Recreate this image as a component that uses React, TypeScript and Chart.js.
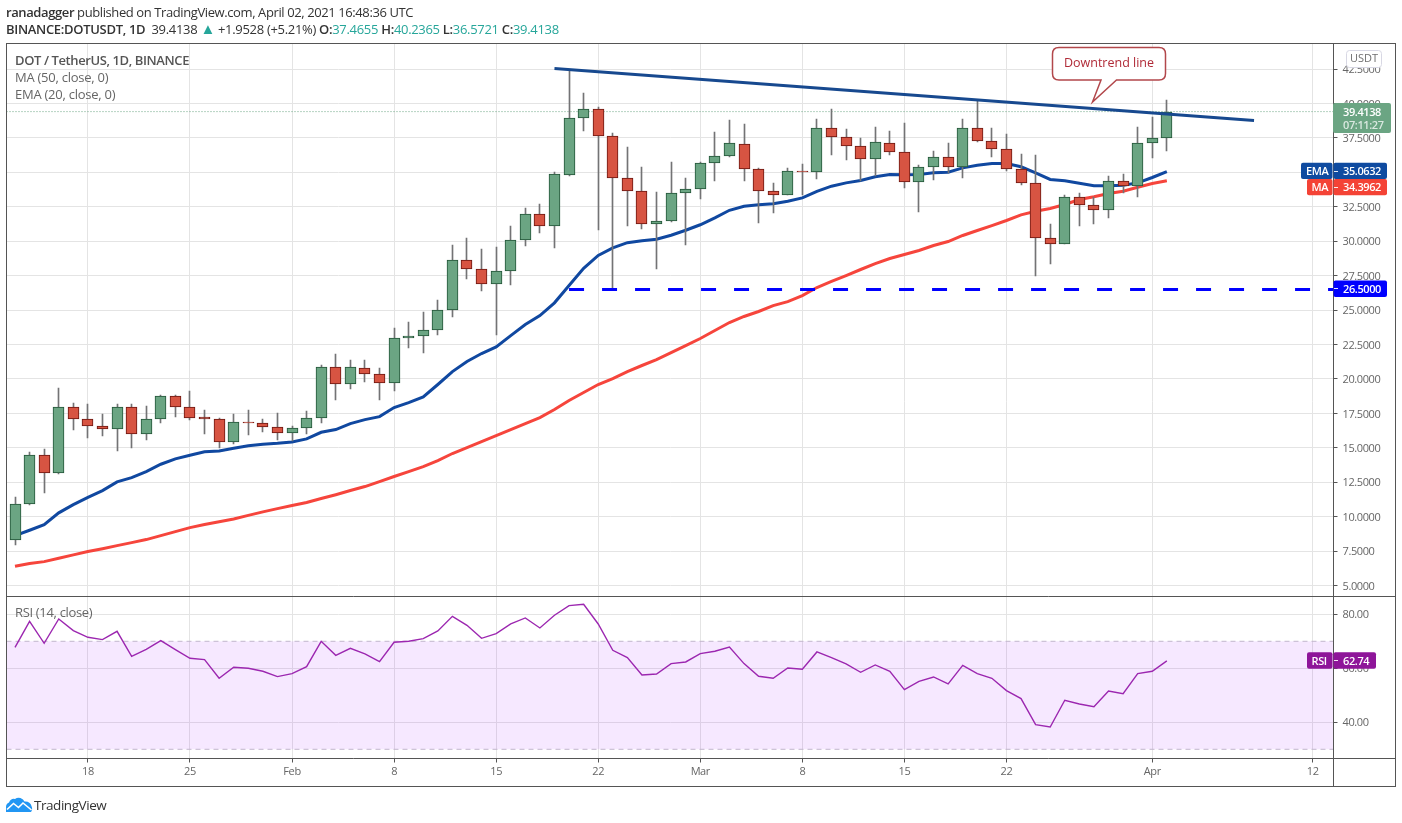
import React, { useEffect, useRef } from "react";
import { Chart, registerables } from "chart.js";

Chart.register(...registerables);

const opens = [8.32,10.93,14.49,13.18,17.98,17.1,16.6,16.38,17.98,16.0,17.1,18.78,17.98,17.25,17.1,15.43,16.89,16.82,16.52,16.09,16.45,17.18,20.88,19.65,20.81,20.37,19.72,22.99,23.13,23.57,25.02,28.65,28.0,26.91,27.85,30.1,32.0,31.12,34.8,38.96,39.6,37.66,34.6,33.66,31.27,31.49,33.52,33.81,35.69,36.2,37.08,35.26,33.66,33.37,35.11,35.04,38.24,37.58,36.93,35.98,37.15,36.5,34.32,35.41,36.13,35.41,38.24,37.29,36.71,35.26,34.24,30.25,29.82,33.23,32.65,32.28,34.39,34.03,37.15,37.4655];
const closes = [10.93,14.49,13.18,17.98,17.1,16.6,16.35,17.98,16.0,17.1,18.78,17.98,17.18,17.08,15.43,16.89,16.79,16.52,16.09,16.45,17.18,20.88,19.65,20.88,20.37,19.72,22.99,23.13,23.57,25.02,28.65,28.0,26.91,27.85,30.1,32.0,31.12,34.9,38.96,39.6,37.66,34.6,33.66,31.27,31.49,33.52,33.81,35.69,36.2,37.15,35.26,33.66,33.37,35.11,35.04,38.24,37.58,36.93,35.98,37.22,36.5,34.32,35.41,36.13,35.41,38.24,37.29,36.71,35.26,34.24,30.25,29.82,33.23,32.65,32.28,34.39,34.03,37.15,37.51,39.4138];
const highs = [11.46,14.73,14.93,19.38,18.27,18.2,17.49,18.2,18.2,18.07,18.85,18.85,19.16,17.78,17.15,17.49,17.78,17.13,17.54,16.6,17.71,20.98,21.78,21.41,21.41,20.83,23.71,24.17,24.9,25.77,29.76,30.27,29.47,29.62,31.14,32.45,32.67,35.04,42.35,40.8,39.76,37.87,36.88,35.36,33.59,35.72,34.6,35.72,37.97,38.77,38.48,35.33,34.24,35.33,35.62,38.91,39.64,38.12,37.53,38.33,38.04,38.62,35.55,36.52,37.1,38.91,40.29,38.19,37.82,36.35,36.23,31.29,33.37,33.54,33.23,34.75,34.85,38.33,38.99,40.2365];
const lows = [7.93,10.83,11.7,13.1,16.28,15.7,15.84,14.75,14.97,15.6,16.77,17.22,17.05,15.97,14.97,15.26,15.91,16.13,15.6,15.48,15.98,16.8,18.51,19.31,19.81,18.44,19.16,22.24,21.87,23.23,24.48,27.24,26.37,23.18,26.8,29.64,30.58,29.49,34.72,37.99,30.8,26.55,31.09,30.87,27.97,31.38,29.76,33.05,34.36,36.1,34.36,31.3,32.04,33.37,33.37,34.49,36.25,35.88,34.36,34.75,36.25,33.86,32.11,34.43,34.97,34.58,37.19,36.1,35.09,34.07,27.46,28.33,29.82,31.09,31.24,31.72,33.52,33.23,36.03,36.5721];
const ema = [8.63,9.02,9.43,10.28,10.88,11.41,11.9,12.53,12.84,13.28,13.81,14.2,14.46,14.71,14.78,14.97,15.15,15.26,15.33,15.43,15.65,16.13,16.33,16.76,17.05,17.27,17.93,18.29,18.7,19.6,20.54,21.27,21.85,22.33,23.15,23.95,24.6,25.53,26.79,28.04,28.97,29.52,29.9,30.03,30.15,30.44,30.8,31.2,31.7,32.25,32.54,32.65,32.72,32.9,33.15,33.63,34.0,34.24,34.41,34.68,34.85,34.83,34.85,34.97,35.01,35.33,35.52,35.65,35.65,35.41,34.97,34.49,34.39,34.22,34.03,34.03,34.07,34.24,34.63,35.0632];
const ma = [6.4,6.6,6.74,6.98,7.23,7.47,7.68,7.9,8.12,8.34,8.63,8.92,9.21,9.43,9.63,9.84,10.1,10.35,10.59,10.81,11.03,11.32,11.6,11.9,12.19,12.55,12.92,13.28,13.64,14.08,14.59,15.02,15.46,15.89,16.33,16.76,17.2,17.78,18.44,19.02,19.6,20.03,20.54,20.98,21.41,21.92,22.43,22.94,23.52,24.1,24.54,24.9,25.33,25.62,26.06,26.64,27.08,27.51,27.95,28.38,28.75,29.04,29.33,29.69,29.98,30.42,30.78,31.14,31.51,31.92,32.18,32.38,32.67,33.03,33.23,33.47,33.63,33.92,34.19,34.3962];
const rsi = [67.78,77.41,69.26,78.27,73.95,71.48,70.62,73.7,64.44,67.04,70.25,66.91,63.7,63.21,56.3,60.37,60,58.89,56.91,58.02,60.62,70,64.81,67.41,65.31,62.47,69.63,70,70.99,73.83,79.26,75.93,71.11,72.84,76.42,78.64,74.94,79.63,83.21,83.7,76.42,66.67,63.95,57.53,57.9,61.73,62.35,65.43,66.3,67.9,61.73,57.04,56.3,60.12,59.63,66.05,63.95,61.6,58.52,61.23,58.89,52.1,55.19,56.79,54.2,61.11,58.02,56.3,51.73,48.77,39.14,38.27,48.15,46.79,45.8,51.6,50.62,58.02,58.89,62.74];

const priceTicks = [5,7.5,10,12.5,15,17.5,20,22.5,25,27.5,30,32.5,35,37.5,40,42.5];
const rsiTicks = [40,60,80];
const dateTickIndex = [5,12,19,26,33,40,47,54,61,68,78,89];
const dateTickLabels = ["18","25","Feb","8","15","22","Mar","8","15","22","Apr","12"];

const trendIndex = [37,84.98];
const trendValue = [42.55,38.77];
const levelValue = 26.5;
const levelStartIndex = 38;
const lastPrice = 39.4138;
const emaLast = 35.0632;
const maLast = 34.3962;
const rsiLast = 62.74;
const rsiUpper = 70;
const rsiLower = 30;
const countdown = "07:11:27";
const callout = "Downtrend line";
const quoteUnit = "USDT";

const X_MIN = -0.583;
const X_MAX = 90.43;
const UI_FONT = '"Open Sans", sans-serif';
const LABEL_SPACING = "-0.4px";

const UP = "#6ba583", UP_B = "#225437", DN = "#d75442", DN_B = "#6b1610";
const GRID = "#e4e4e4", FRAME = "#555555", TICK_TEXT = "#666666";

const tag = (ctx: any, x: number, y: number, w: number, h: number, color: string, text: string, tx: number) => {
  ctx.fillStyle = color;
  ctx.beginPath();
  ctx.roundRect(x, y, w, h, 2);
  ctx.fill();
  ctx.fillStyle = "#fff";
  ctx.font = `600 11px ${UI_FONT}`;
  ctx.textBaseline = "middle";
  ctx.textAlign = "left";
  ctx.fillText(text, tx, y + h / 2 + 1);
};

const spacing = {
  id: "spacing",
  beforeUpdate(chart: any) { chart.ctx.letterSpacing = LABEL_SPACING; },
  beforeDraw(chart: any) { chart.ctx.letterSpacing = LABEL_SPACING; },
};

const snapBars = {
  id: "snapBars",
  beforeDatasetsDraw(chart: any) {
    chart.getSortedVisibleDatasetMetas().forEach((meta: any) => {
      if (meta.type !== "bar") return;
      meta.data.forEach((el: any) => {
        el.x = Math.round(el.x - 0.5) + 0.5;
        el.y = Math.round(el.y);
        el.base = Math.round(el.base);
        if (el.base === el.y) el.base = el.y + 1;
      });
    });
  },
};

const rsiBand = {
  id: "rsiBand",
  beforeDatasetsDraw(chart: any) {
    const s = chart.scales.rsi;
    const { left, right } = chart.chartArea;
    const a = s.getPixelForValue(rsiUpper), b = s.getPixelForValue(rsiLower);
    const ctx = chart.ctx;
    ctx.save();
    ctx.fillStyle = "rgba(152,0,255,0.09)";
    ctx.fillRect(left, a, right - left, b - a);
    ctx.restore();
  },
};

const overlay = {
  id: "overlay",
  afterDraw(chart: any) {
    const ctx = chart.ctx;
    const y = chart.scales.y, r = chart.scales.rsi;
    const { left, right, top, bottom } = chart.chartArea;
    const outerR = 1395.5, outerB = 786.5;
    const split = y.bottom;
    ctx.save();

    // frame
    ctx.strokeStyle = FRAME;
    ctx.lineWidth = 1;
    ctx.strokeRect(left, top, outerR - left, outerB - top);
    ctx.beginPath();
    ctx.moveTo(right, top); ctx.lineTo(right, outerB);
    ctx.moveTo(left, Math.round(split) + 0.5); ctx.lineTo(outerR, Math.round(split) + 0.5);
    ctx.moveTo(left, bottom); ctx.lineTo(outerR, bottom);
    ctx.stroke();

    // USDT button
    ctx.letterSpacing = "0px";
    ctx.fillStyle = "#fff";
    ctx.strokeStyle = "#d8d8e4";
    ctx.beginPath();
    ctx.roundRect(1346.5, 50.5, 35, 17, 3);
    ctx.fill(); ctx.stroke();
    ctx.fillStyle = "#6f6f6f";
    ctx.font = `11px ${UI_FONT}`;
    ctx.textAlign = "center"; ctx.textBaseline = "middle";
    ctx.fillText(quoteUnit, 1364, 59);

    // last price
    ctx.letterSpacing = LABEL_SPACING;
    const lp = y.getPixelForValue(lastPrice);
    ctx.fillStyle = UP;
    ctx.beginPath();
    ctx.roundRect(1333, lp - 8.5, 58, 30, 2);
    ctx.fill();
    ctx.textAlign = "left"; ctx.textBaseline = "middle";
    ctx.fillStyle = "#fff";
    ctx.font = `600 11px ${UI_FONT}`;
    ctx.fillText(lastPrice.toFixed(4), 1343, lp + 1.5);
    ctx.fillStyle = "rgba(255,255,255,0.75)";
    ctx.fillText(countdown, 1343, lp + 14.5);

    // indicator tags
    const ey = y.getPixelForValue(emaLast);
    const emaTop = ey - 8.8;
    const maTop = emaTop + 16.2;
    const levelTop = y.getPixelForValue(levelValue) - 9;
    const rsiTop = r.getPixelForValue(rsiLast) - 8.6;
    tag(ctx, 1301, emaTop, 31.5, 16.2, "#0f4ba0", "EMA", 1306);
    tag(ctx, 1333.5, emaTop, 53.5, 16.2, "#0f4ba0", emaLast.toFixed(4), 1343);
    tag(ctx, 1307, maTop, 25.5, 16.2, "#f44336", "MA", 1311.5);
    tag(ctx, 1333.5, maTop, 53.5, 16.2, "#f44336", maLast.toFixed(4), 1343);
    tag(ctx, 1333.5, levelTop, 53.5, 16.5, "#0000ff", levelValue.toFixed(4), 1343);
    tag(ctx, 1307, rsiTop, 25.5, 16.5, "#8e1599", "RSI", 1311.5);
    tag(ctx, 1333.5, rsiTop, 42.5, 16.5, "#8e1599", rsiLast.toFixed(2), 1343);
    ctx.strokeStyle = "rgba(255,255,255,0.9)";
    ctx.beginPath();
    [emaTop, maTop, levelTop, rsiTop].forEach((p) => { const q = Math.round(p + 8) + 0.5; ctx.moveTo(1334, q); ctx.lineTo(1338, q); });
    ctx.stroke();

    // callout
    ctx.letterSpacing = "0px";
    ctx.fillStyle = "#fff";
    ctx.strokeStyle = "#b2474b";
    ctx.lineWidth = 1.5;
    ctx.beginPath();
    ctx.moveTo(1059, 47.5);
    ctx.lineTo(1159, 47.5);
    ctx.quadraticCurveTo(1165.5, 47.5, 1165.5, 54);
    ctx.lineTo(1165.5, 73.5);
    ctx.quadraticCurveTo(1165.5, 80, 1159, 80);
    ctx.lineTo(1116.5, 80);
    ctx.lineTo(1092.5, 102);
    ctx.lineTo(1101, 80);
    ctx.lineTo(1059, 80);
    ctx.quadraticCurveTo(1052.5, 80, 1052.5, 73.5);
    ctx.lineTo(1052.5, 54);
    ctx.quadraticCurveTo(1052.5, 47.5, 1059, 47.5);
    ctx.closePath();
    ctx.fill(); ctx.stroke();
    ctx.fillStyle = "#b02a37";
    ctx.font = `12.5px ${UI_FONT}`;
    ctx.textAlign = "center"; ctx.textBaseline = "middle";
    ctx.fillText(callout, 1109, 63);
    ctx.restore();
  },
};

const abs = (left: number, top: number, extra: any = {}) => ({
  position: "absolute" as const, left, top, whiteSpace: "nowrap" as const, fontFamily: UI_FONT, lineHeight: "16px", ...extra,
});
const T = ({ children }: any) => <span style={{ color: "#26a69a" }}>{children}</span>;
const B = ({ children }: any) => <span style={{ fontWeight: 600, color: "#333" }}>{children}</span>;

export default function App() {
  const ref = useRef<HTMLCanvasElement>(null);
  useEffect(() => {
    const idx = opens.map((_, i) => i);
    const up = idx.map((i) => closes[i] >= opens[i]);
    const xy = (vals: number[]) => vals.map((v, i) => ({ x: i, y: v }));
    const line = (o: any) => ({ type: "line", pointRadius: 0, tension: 0, fill: false, borderCapStyle: "butt", yAxisID: "y", xAxisID: "x", ...o });
    const tickFont = { family: UI_FONT, size: 11 };
    const chart = new Chart(ref.current!, {
      type: "bar",
      data: {
        datasets: [
          line({ label: "EMA", data: xy(ema), borderColor: "#1048a0", borderWidth: 3, order: 6 }),
          line({ label: "MA", data: xy(ma), borderColor: "#f6453c", borderWidth: 3, order: 6 }),
          { label: "wick", type: "bar", data: idx.map((i) => ({ x: i, y: [lows[i], highs[i]] })), backgroundColor: "#737375", borderWidth: 0, barThickness: 1, grouped: false, order: 5, yAxisID: "y", xAxisID: "x" },
          { label: "DOT", type: "bar", data: idx.map((i) => ({ x: i, y: [opens[i], closes[i]] })), backgroundColor: up.map((u) => (u ? UP : DN)), borderColor: up.map((u) => (u ? UP_B : DN_B)), borderWidth: 1, borderSkipped: false, barThickness: 11, grouped: false, order: 4, yAxisID: "y", xAxisID: "x" },
          line({ label: "last", data: [{ x: X_MIN, y: lastPrice }, { x: X_MAX, y: lastPrice }], borderColor: UP, borderWidth: 1, borderDash: [1, 2], order: 7 }),
          line({ label: "level", data: [{ x: levelStartIndex, y: levelValue }, { x: X_MAX, y: levelValue }], borderColor: "#0000ff", borderWidth: 3, borderDash: [15, 18], order: 2 }),
          line({ label: "trend", data: trendIndex.map((x, i) => ({ x, y: trendValue[i] })), borderColor: "#17498f", borderWidth: 3, order: 1 }),
          line({ label: "RSI", data: xy(rsi), borderColor: "#9c27b0", borderWidth: 1.4, yAxisID: "rsi", order: 1 }),
          line({ label: "upper", data: [{ x: X_MIN, y: rsiUpper }, { x: X_MAX, y: rsiUpper }], borderColor: "#c2b5cc", borderWidth: 1, borderDash: [5, 4], yAxisID: "rsi", order: 3 }),
          line({ label: "lower", data: [{ x: X_MIN, y: rsiLower }, { x: X_MAX, y: rsiLower }], borderColor: "#c2b5cc", borderWidth: 1, borderDash: [5, 4], yAxisID: "rsi", order: 3 }),
        ] as any,
      },
      options: {
        responsive: false,
        animation: false,
        devicePixelRatio: 1,
        events: [],
        layout: { padding: { left: 6.5, right: 6.5, top: 43.5, bottom: 36.5 } },
        plugins: { legend: { display: false }, tooltip: { enabled: false } },
        scales: {
          x: {
            type: "linear", min: X_MIN, max: X_MAX, offset: false,
            grid: { color: GRID, offset: false, tickLength: 4, tickColor: FRAME },
            border: { display: false },
            afterBuildTicks: (s: any) => { s.ticks = dateTickIndex.map((value) => ({ value })); },
            afterFit: (s: any) => { s.height = 28; },
            ticks: {
              autoSkip: false, maxRotation: 0, padding: 3, color: TICK_TEXT,
              font: tickFont,
              callback: (v: any) => dateTickLabels[dateTickIndex.indexOf(v)],
            },
          },
          y: {
            type: "linear", axis: "y", position: "right", stack: "panes", stackWeight: 552, weight: 1, min: 4.28, max: 44.36,
            grid: { color: GRID, tickLength: 4, tickColor: FRAME },
            border: { display: false },
            afterBuildTicks: (s: any) => { s.ticks = priceTicks.map((value) => ({ value })); },
            afterFit: (s: any) => { s.width = 62; },
            ticks: { autoSkip: false, padding: 5, labelOffset: 1, color: TICK_TEXT, font: tickFont, callback: (v: any) => Number(v).toFixed(4) },
          },
          rsi: {
            type: "linear", axis: "y", position: "right", stack: "panes", stackWeight: 163, weight: 2, min: 26.59, max: 86.96,
            grid: { color: GRID, tickLength: 4, tickColor: FRAME },
            border: { display: false },
            afterBuildTicks: (s: any) => { s.ticks = rsiTicks.map((value) => ({ value })); },
            afterFit: (s: any) => { s.width = 62; },
            ticks: { autoSkip: false, padding: 5, labelOffset: 1, color: TICK_TEXT, font: tickFont, callback: (v: any) => Number(v).toFixed(2) },
          },
        },
      } as any,
      plugins: [spacing, rsiBand, snapBars, overlay],
    });
    return () => chart.destroy();
  }, []);

  return (
    <div style={{ position: "absolute", left: 0, top: 0, width: 1402, height: 823, overflow: "hidden", background: "#fff" }}>
      <canvas ref={ref} width={1402} height={823} style={{ position: "absolute", left: 0, top: 0, display: "block" }} />
      <div style={abs(6, 4, { fontSize: 13, color: "#333", letterSpacing: -0.4 })}><B>ranadagger</B> published on TradingView.com, April 02, 2021 16:48:36 UTC</div>
      <div style={abs(6, 21, { fontSize: 13, color: "#333", letterSpacing: -0.31 })}>
        <B>BINANCE:DOTUSDT, 1D</B>&nbsp; 39.4138 <span style={{ color: "#26a69a", fontSize: 15, lineHeight: 0 }}>▲</span> +1.9528 (+5.21%) <B>O:</B><T>37.4655</T> <B>H:</B><T>40.2365</T> <B>L:</B><T>36.5721</T> <B>C:</B><T>39.4138</T>
      </div>
      <div style={abs(15, 52, { fontSize: 13, color: "#555", fontWeight: 600, letterSpacing: -0.4 })}>DOT / TetherUS, 1D, BINANCE</div>
      <div style={abs(15, 69, { fontSize: 13, color: "#666", letterSpacing: -0.25 })}>MA (50, close, 0)</div>
      <div style={abs(15, 86, { fontSize: 13, color: "#666", letterSpacing: -0.25 })}>EMA (20, close, 0)</div>
      <div style={abs(15, 604, { fontSize: 13, color: "#666", letterSpacing: -0.33 })}>RSI (14, close)</div>
      <svg style={{ position: "absolute", left: 6, top: 797 }} width={27} height={15} viewBox="0 0 27 15">
        <path d="M0 15 V10 Q0 6.5 3 5.5 Q5 1 9 2 Q11.5 0 14.5 1 Q17.5 2 18.5 4.5 Q24 4 25.5 9 Q27 12.5 25 15 Z" fill="#2196f3" />
        <path d="M1 12.5 L7.5 6.5 L12.5 10.5 L17 6 L25.5 13" stroke="#fff" strokeWidth={1.6} fill="none" />
      </svg>
      <div style={abs(34, 797, { fontSize: 13.5, color: "#333", letterSpacing: -0.45 })}>TradingView</div>
    </div>
  );
}
